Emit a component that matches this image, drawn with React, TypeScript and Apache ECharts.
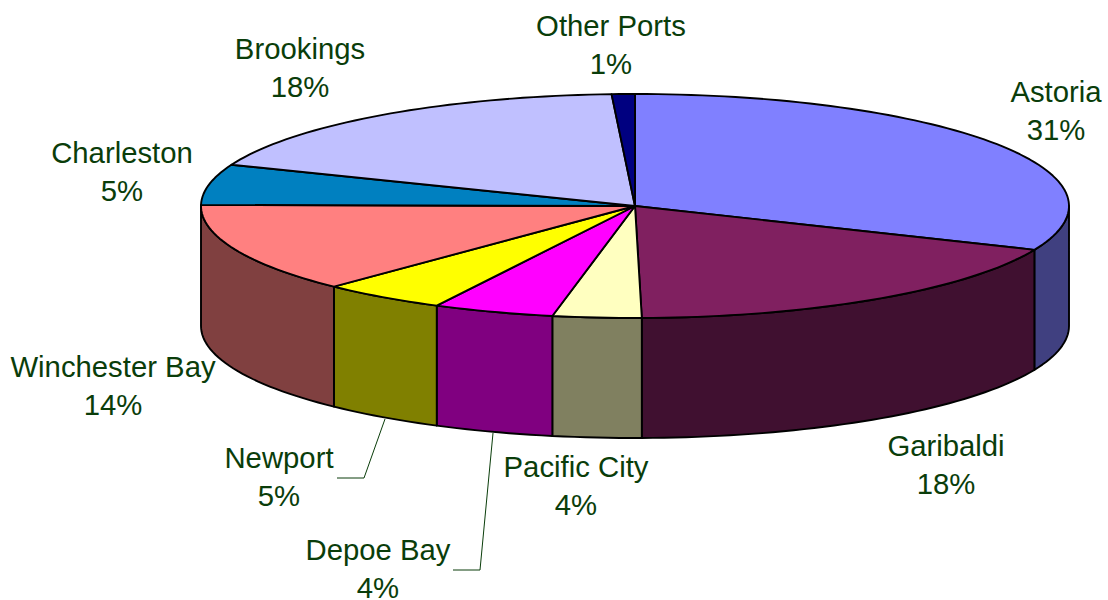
import React, { useEffect, useRef } from "react";
import * as echarts from "echarts";

// Clockwise from 12 o'clock, as drawn.
const categories = ["Astoria", "Garibaldi", "Pacific City", "Depoe Bay", "Newport", "Winchester Bay", "Charleston", "Brookings", "Other Ports"];
const sliceValues = [31.4, 18.35, 3.3, 4.5, 4.65, 12.95, 5.85, 18.14, 0.86];
const percentLabels = ["31%", "18%", "4%", "4%", "5%", "14%", "5%", "18%", "1%"];
const topColors = ["#8080FF", "#802060", "#FFFFC0", "#FF00FF", "#FFFF00", "#FF8080", "#0080C0", "#C0C0FF", "#000080"];
const sideColors = ["#404080", "#401030", "#808060", "#800080", "#808000", "#804040", "#004060", "#606080", "#000040"];

const labelCenters = [
  [1056, 91], [946, 445], [576, 466], [378, 549], [279, 457], [113, 366], [122, 152], [300, 48], [611, 25],
];
const leaders = [
  [[385, 419], [364, 478], [337, 478]],
  [[493, 433], [480, 570], [453, 570]],
];

const CX = 635, CY = 206, RX = 434, RY = 112, DEPTH = 120;
const TEXT = "#0A3D0A";
const FONT = '"Liberation Sans", Arial, sans-serif';
const total = sliceValues.reduce((a, b) => a + b, 0);
const startOf = (i: number) => sliceValues.slice(0, i).reduce((a, b) => a + b, 0) / total * 360;
const rim = (deg: number, dy = 0) => {
  const r = deg * Math.PI / 180;
  return [CX + RX * Math.sin(r), CY - RY * Math.cos(r) + dy];
};
const arc = (a: number, b: number, dy = 0) => {
  const pts: number[][] = [];
  const n = Math.max(2, Math.ceil((b - a) / 1.5));
  for (let k = 0; k <= n; k++) pts.push(rim(a + (b - a) * k / n, dy));
  return pts;
};
const edge = { stroke: "#000", lineWidth: 1.9, lineJoin: "round" };

export default function App() {
  const ref = useRef<HTMLDivElement>(null);
  useEffect(() => {
    document.body.style.margin = "0";
    const chart = echarts.init(ref.current!, undefined, { renderer: "svg" });
    const graphic: any[] = [];
    categories.forEach((name, i) => {
      const [x, y] = labelCenters[i];
      for (const [t, ty] of [[name, y], [percentLabels[i], y + 38]] as [string, number][]) {
        graphic.push({
          type: "text", x, y: ty, silent: true,
          style: { text: t, fill: TEXT, font: `29.3px ${FONT}`, textAlign: "center", textVerticalAlign: "middle" },
        });
      }
    });
    leaders.forEach((points) => {
      graphic.push({ type: "polyline", silent: true, shape: { points }, style: { stroke: TEXT, lineWidth: 1, fill: "none" } });
    });
    chart.setOption({
      animation: false,
      backgroundColor: "#fff",
      graphic,
      series: [
        {
          type: "custom", coordinateSystem: "none", silent: true, z: 1,
          data: sliceValues,
          renderItem: (p: any) => {
            const i = p.dataIndex;
            const a = Math.max(startOf(i), 90);
            const b = Math.min(startOf(i + 1), 270);
            if (b <= a) return { type: "group", children: [] };
            const points = [...arc(a, b), ...arc(a, b, DEPTH).reverse()];
            return { type: "polygon", shape: { points }, style: { fill: sideColors[i], ...edge } };
          },
        },
        {
          type: "custom", coordinateSystem: "none", silent: true, z: 2,
          data: sliceValues,
          renderItem: (p: any) => {
            const i = p.dataIndex;
            const points = [[CX, CY], ...arc(startOf(i), startOf(i + 1))];
            return { type: "polygon", shape: { points }, style: { fill: topColors[i], ...edge } };
          },
        },
      ],
    });
    return () => chart.dispose();
  }, []);
  return <div ref={ref} style={{ position: "fixed", left: 0, top: 0, width: 1108, height: 600 }} />;
}
